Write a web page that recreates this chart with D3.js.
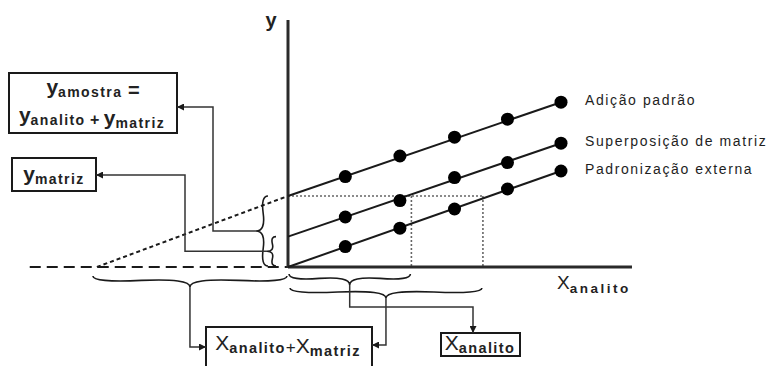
<!DOCTYPE html>
<html>
<head>
<meta charset="utf-8">
<script src="https://cdn.jsdelivr.net/npm/d3@7"></script>
<style>
  body { margin: 0; background: #fff; }
  svg { display: block; font-family: "Liberation Sans", Arial, sans-serif; }
</style>
</head>
<body>
<script>
// dot positions (added concentration) and signals
const xDots = [1.05, 2.05, 3.05, 4.02, 5.0];
const adicaoY = [4.52, 5.55, 6.49, 7.39, 8.24];
const superposicaoY = [2.5, 3.32, 4.47, 5.22, 6.19];
const padronizacaoY = [1.02, 1.94, 2.9, 3.9, 4.8];
const seriesNames = ["Adição padrão", "Superposição de matriz", "Padronização externa"];
const intercepts = [3.55, 1.52, 0];
const xIntercept = -3.5;        // extrapolated standard-addition line
const guideX = [2.26, 3.57];    // dotted drop lines
const xAxisEnds = [-4.73, 6.3];
const yAxisTop = 12.35;

const width = 781, height = 366;

const svg = d3.select("body").append("svg")
    .attr("width", width)
    .attr("height", height);

const x = d3.scaleLinear().domain([0, 5]).range([288, 561]);
const y = d3.scaleLinear().domain([0, 12]).range([267, 27]);

const ink = "#1a1a1a";

// arrow head for the connectors
svg.append("defs").append("marker")
    .attr("id", "arr")
    .attr("viewBox", "0 0 8 8")
    .attr("refX", 8).attr("refY", 4)
    .attr("markerWidth", 7).attr("markerHeight", 7)
    .attr("markerUnits", "userSpaceOnUse")
    .attr("orient", "auto")
  .append("path")
    .attr("d", "M0,0 L8,4 L0,8 z")
    .attr("fill", ink);

// curly brace, bulging to the left of the direction p1 -> p2
function bracePath(x1, y1, x2, y2, w, q) {
    let dx = x1 - x2, dy = y1 - y2;
    const len = Math.sqrt(dx * dx + dy * dy);
    dx /= len; dy /= len;
    const qx1 = x1 + q * w * dy, qy1 = y1 - q * w * dx;
    const qx2 = (x1 - .25 * len * dx) + (1 - q) * w * dy, qy2 = (y1 - .25 * len * dy) - (1 - q) * w * dx;
    const tx = (x1 - .5 * len * dx) + w * dy, ty = (y1 - .5 * len * dy) - w * dx;
    const qx3 = x2 + q * w * dy, qy3 = y2 - q * w * dx;
    const qx4 = (x1 - .75 * len * dx) + (1 - q) * w * dy, qy4 = (y1 - .75 * len * dy) - (1 - q) * w * dx;
    return `M${x1},${y1} Q${qx1},${qy1} ${qx2},${qy2} T${tx},${ty} M${x2},${y2} Q${qx3},${qy3} ${qx4},${qy4} T${tx},${ty}`;
}

// dotted guides
const guides = svg.append("g")
    .attr("stroke", "#666")
    .attr("stroke-width", 1.6)
    .attr("stroke-dasharray", "2,2");
guides.append("line")
    .attr("x1", x(0)).attr("x2", x(guideX[1]))
    .attr("y1", y(intercepts[0])).attr("y2", y(intercepts[0]));
guides.selectAll("line.v").data(guideX).enter().append("line")
    .attr("class", "v")
    .attr("x1", d => x(d)).attr("x2", d => x(d))
    .attr("y1", y(intercepts[0])).attr("y2", y(0));

// negative x axis (dashed)
svg.append("line")
    .attr("x1", x(xAxisEnds[0])).attr("x2", x(0))
    .attr("y1", y(0)).attr("y2", y(0))
    .attr("stroke", ink).attr("stroke-width", 2.2)
    .attr("stroke-dasharray", "11,6");

// extrapolation of the standard-addition line
svg.append("line")
    .attr("x1", x(xIntercept)).attr("y1", y(0))
    .attr("x2", x(0)).attr("y2", y(intercepts[0]))
    .attr("stroke", ink).attr("stroke-width", 2)
    .attr("stroke-dasharray", "4,3");

// axes
svg.append("line")
    .attr("x1", x(0)).attr("x2", x(0))
    .attr("y1", y(0) + 1).attr("y2", y(yAxisTop))
    .attr("stroke", "#2a2a2a").attr("stroke-width", 3);
svg.append("line")
    .attr("x1", x(0)).attr("x2", x(xAxisEnds[1]))
    .attr("y1", y(0)).attr("y2", y(0))
    .attr("stroke", "#2a2a2a").attr("stroke-width", 3);

// series
const series = [adicaoY, superposicaoY, padronizacaoY].map((vals, i) => ({
    name: seriesNames[i],
    start: [0, intercepts[i]],
    pts: xDots.map((d, j) => [d, vals[j]])
}));

const line = d3.line().x(d => x(d[0])).y(d => y(d[1]));

const sg = svg.selectAll("g.series").data(series).enter().append("g").attr("class", "series");
sg.append("path")
    .attr("d", d => line([d.start, d.pts[d.pts.length - 1]]))
    .attr("fill", "none").attr("stroke", ink).attr("stroke-width", 2);
sg.selectAll("circle").data(d => d.pts).enter().append("circle")
    .attr("cx", d => x(d[0])).attr("cy", d => y(d[1]))
    .attr("r", 6.5).attr("fill", "#000");
sg.append("text")
    .attr("x", d => x(d.pts[4][0]) + 24)
    .attr("y", d => y(d.pts[4][1]) + 3)
    .attr("font-size", 14)
    .attr("letter-spacing", 1.6)
    .attr("fill", "#1e1e1e")
    .text(d => d.name);

// axis labels
svg.append("text")
    .attr("x", 271).attr("y", 27)
    .attr("text-anchor", "middle")
    .attr("font-size", 20).attr("font-weight", "bold").attr("fill", "#222")
    .text("y");
const xl = svg.append("text").attr("x", 557).attr("y", 289).attr("fill", "#222");
xl.append("tspan").attr("font-size", 19).text("X");
xl.append("tspan").attr("font-size", 13.5).attr("font-weight", "bold")
    .attr("letter-spacing", 2.5).attr("dy", 4).text("analito");

// braces
const braces = svg.append("g")
    .attr("fill", "none").attr("stroke", ink).attr("stroke-width", 1.6);
const bigBrace = {x: x(0) - 20, y1: y(intercepts[0]), y2: y(0) - 1, w: 12};
const smallBrace = {x: x(0) - 12, y1: y(intercepts[1]), y2: y(0) - 1, w: 9};
[bigBrace, smallBrace].forEach(b => {
    braces.append("path").attr("d", bracePath(b.x, b.y1, b.x, b.y2, b.w, 0.6));
});
const braceA = {x1: x(xIntercept) - 4, x2: x(0) - 1, y: 276, w: 11};
const braceB = {x1: x(0) + 1, x2: x(guideX[0]) - 1, y: 274, w: 11};
const braceC = {x1: x(0) + 2, x2: x(guideX[1]) - 1, y: 288, w: 10};
[braceA, braceB, braceC].forEach(b => {
    braces.append("path").attr("d", bracePath(b.x1, b.y, b.x2, b.y, b.w, 0.6));
});

// boxes
const boxes = [
    {x: 9, y: 73, w: 168, h: 60},
    {x: 12, y: 158, w: 84, h: 33},
    {x: 206, y: 327, w: 166, h: 45},
    {x: 441, y: 333, w: 79, h: 23}
];
svg.selectAll("rect.box").data(boxes).enter().append("rect")
    .attr("class", "box")
    .attr("x", d => d.x).attr("y", d => d.y)
    .attr("width", d => d.w).attr("height", d => d.h)
    .attr("fill", "#fff").attr("stroke", ink).attr("stroke-width", 2);

// box texts
function sym(t, base, sub, big, small, bold) {
    t.append("tspan").attr("font-size", big).attr("font-weight", bold ? "bold" : "normal").text(base);
    t.append("tspan").attr("font-size", small).attr("font-weight", "bold")
        .attr("letter-spacing", 1.4).attr("dy", 3).text(sub);
    t.append("tspan").attr("dy", -3).text("");
}
const t1 = svg.append("text").attr("x", 93).attr("y", 94).attr("text-anchor", "middle").attr("fill", "#222");
sym(t1, "y", "amostra", 21, 14, true);
t1.append("tspan").attr("font-size", 20).attr("font-weight", "bold").text("  =");
const t2 = svg.append("text").attr("x", 92).attr("y", 122).attr("text-anchor", "middle").attr("fill", "#222");
sym(t2, "y", "analito", 21, 14, true);
t2.append("tspan").attr("font-size", 16).attr("font-weight", "bold").text(" + ");
sym(t2, "y", "matriz", 21, 14, true);
const t3 = svg.append("text").attr("x", 54).attr("y", 181).attr("text-anchor", "middle").attr("fill", "#222");
sym(t3, "y", "matriz", 21, 14, true);
const t4 = svg.append("text").attr("x", 288).attr("y", 350).attr("text-anchor", "middle").attr("fill", "#222");
sym(t4, "X", "analito", 21, 14.5, false);
t4.append("tspan").attr("font-size", 17).text("+");
sym(t4, "X", "matriz", 21, 14.5, false);
const t5 = svg.append("text").attr("x", 480).attr("y", 350).attr("text-anchor", "middle").attr("fill", "#222");
sym(t5, "X", "analito", 21, 14.5, false);

// connectors from braces to boxes
const conn = svg.append("g")
    .attr("fill", "none").attr("stroke", "#333").attr("stroke-width", 1.5)
    .attr("marker-end", "url(#arr)");
const bigTip = [bigBrace.x - bigBrace.w, (bigBrace.y1 + bigBrace.y2) / 2];
const smallTip = [smallBrace.x - smallBrace.w, (smallBrace.y1 + smallBrace.y2) / 2];
const tipA = [(braceA.x1 + braceA.x2) / 2, braceA.y + braceA.w];
const tipB = [(braceB.x1 + braceB.x2) / 2, braceB.y + braceB.w];
const tipC = [(braceC.x1 + braceC.x2) / 2, braceC.y + braceC.w];
const paths = [
    [bigTip, [213, bigTip[1]], [213, 107], [boxes[0].x + boxes[0].w, 107]],
    [smallTip, [185, smallTip[1]], [185, 175], [boxes[1].x + boxes[1].w, 175]],
    [tipA, [tipA[0], 347], [boxes[2].x, 347]],
    [tipB, [tipB[0], 307], [473, 307], [473, boxes[3].y]],
    [tipC, [tipC[0], 345], [boxes[2].x + boxes[2].w, 345]]
];
const pl = d3.line();
conn.selectAll("path").data(paths).enter().append("path").attr("d", d => pl(d));
</script>
</body>
</html>
